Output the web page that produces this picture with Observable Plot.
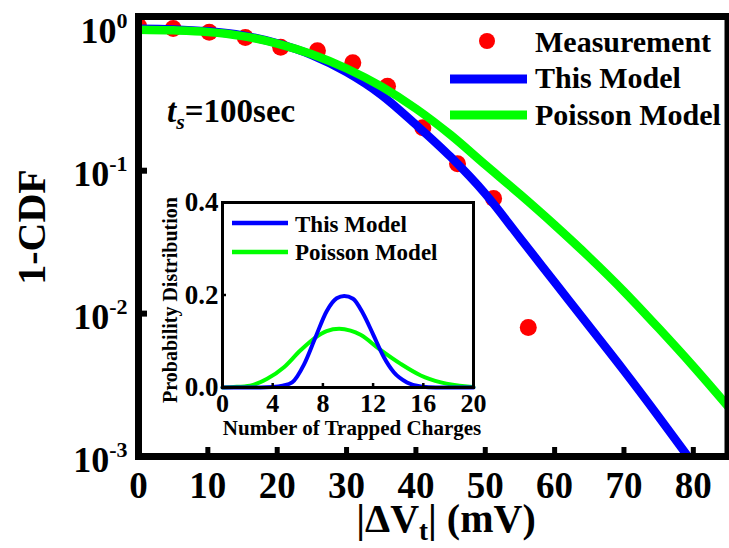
<!DOCTYPE html>
<html>
<head>
<meta charset="utf-8">
<script src="https://cdn.jsdelivr.net/npm/d3@7"></script>
<script src="https://cdn.jsdelivr.net/npm/@observablehq/plot@0.6"></script>
<style>
  html, body { margin: 0; padding: 0; background: white; }
  #wrap { position: relative; width: 729px; height: 548px; overflow: hidden; }
  #inset { position: absolute; left: 140px; top: 170px; }
</style>
</head>
<body>
<div id="wrap"><div id="main"></div><div id="inset"></div></div>
<script>
// ---------- data ----------
const measX = [0, 5.0, 10.2, 15.4, 20.5, 25.8, 30.9, 35.9, 41.0, 46.0, 51.2, 56.2];
const measY = [1.03, 0.99, 0.93, 0.855, 0.73, 0.69, 0.57, 0.39, 0.20, 0.112, 0.064, 0.008];

const thisModelX = [0, 5, 10, 15, 20, 25, 30, 35, 40, 45, 50, 55, 60, 65, 70, 75, 80];
const thisModelY = [0.985, 0.975, 0.945, 0.885, 0.78, 0.645, 0.49, 0.34, 0.21, 0.125, 0.069, 0.0339, 0.0166, 0.00813, 0.00398, 0.0019, 0.00089];

const poissonX = [0, 5, 10, 15, 20, 25, 30, 35, 40, 45, 50, 55, 60, 65, 70, 75, 80, 85];
const poissonY = [0.97, 0.96, 0.935, 0.875, 0.776, 0.653, 0.519, 0.389, 0.272, 0.178, 0.110, 0.0684, 0.0417, 0.0248, 0.0143, 0.0079, 0.00427, 0.00224];

const insetThisX = [0, 3, 4, 4.8, 5.55, 6.5, 7.4, 8.3, 9.1, 9.7, 10.4, 11.2, 12.0, 12.85, 13.65, 14.7, 15.8, 17, 20];
const insetThisY = [0, 0, 0.001, 0.004, 0.011, 0.05, 0.108, 0.165, 0.193, 0.198, 0.192, 0.16, 0.115, 0.066, 0.033, 0.011, 0.002, 0, 0];

const insetPoissonX = [0, 0.9, 2.2, 3.56, 4.9, 6.2, 7.4, 8.3, 9.3, 10.2, 11.0, 12.45, 14.2, 15.8, 17.4, 19.5, 20];
const insetPoissonY = [0, 0.001, 0.004, 0.019, 0.044, 0.080, 0.108, 0.122, 0.127, 0.123, 0.114, 0.084, 0.051, 0.026, 0.011, 0.002, 0.001];

const xTicks = [0, 10, 20, 30, 40, 50, 60, 70, 80];
const yTicks = [0.001, 0.01, 0.1, 1];
const insetXTicks = [0, 4, 8, 12, 16, 20];
const insetYTicks = [0, 0.2, 0.4];

const seriesNames = ["Measurement", "This Model", "Poisson Model"];
const yTitle = "1-CDF";
const insetXTitle = "Number of Trapped Charges";
const insetYTitle = "Probability Distribution";

const RED = "#ff0000", BLUE = "#0000ff", GREEN = "#00ff00";
const FONT = "'Liberation Serif', 'Times New Roman', serif";

const rows = (xs, ys) => xs.map((x, i) => ({x, y: ys[i]}));

// ---------- main plot ----------
const main = Plot.plot({
  width: 729, height: 548,
  marginLeft: 138, marginRight: 1.5, marginTop: 16, marginBottom: 92,
  x: {domain: [0, 85], label: null},
  y: {type: "log", domain: [0.001, 1.2], label: null},
  style: {fontFamily: FONT, fontWeight: "bold", color: "black", background: "white"},
  marks: [
    Plot.dot(rows(measX, measY), {x: "x", y: "y", r: 8.5, fill: RED, stroke: "none", clip: true}),
    Plot.line(rows(thisModelX, thisModelY), {x: "x", y: "y", stroke: BLUE, strokeWidth: 8.5, curve: "monotone-x", clip: true}),
    Plot.line(rows(poissonX, poissonY), {x: "x", y: "y", stroke: GREEN, strokeWidth: 8.5, curve: "monotone-x", clip: true}),
    Plot.axisX({ticks: xTicks, tickSize: 0, tickPadding: 15, fontSize: 37, label: null}),
    Plot.axisX({ticks: xTicks.filter(d => d > 0), tickSize: -9, strokeWidth: 5, tickFormat: () => "", label: null}),
    Plot.axisY({ticks: yTicks, tickSize: 0, tickPadding: 11, fontSize: 36, dy: 4,
      tickFormat: d => "10^" + Math.round(Math.log10(d)), label: null}),
    Plot.axisY({ticks: [0.1, 0.01], tickSize: -9, strokeWidth: 6, tickFormat: () => "", label: null}),
    Plot.frame({stroke: "black", strokeWidth: 7})
  ]
});
document.getElementById("main").appendChild(main);

const svg = d3.select(main);
// superscript exponents on y tick labels
svg.selectAll('g[aria-label="y-axis tick label"] text').each(function () {
  const t = this.textContent;
  if (!t.includes("^")) return;
  const [b, e] = t.split("^");
  const sel = d3.select(this);
  sel.text(null);
  sel.append("tspan").text(b);
  sel.append("tspan").attr("font-size", 22).attr("dy", -15).text(e);
});

// y title
svg.append("text")
  .attr("transform", "translate(45,227) rotate(-90)")
  .attr("text-anchor", "middle").attr("font-size", 40).attr("font-weight", "bold")
  .attr("font-family", FONT).attr("fill", "black")
  .text(yTitle);

// x title |ΔVt| (mV)
const xt = svg.append("text")
  .attr("x", 446).attr("y", 532)
  .attr("text-anchor", "middle").attr("font-size", 40).attr("font-weight", "bold")
  .attr("font-family", FONT).attr("fill", "black");
xt.append("tspan").text("|ΔV");
xt.append("tspan").attr("font-size", 27).attr("dy", 8).text("t");
xt.append("tspan").attr("dy", -8).text("| (mV)");

// t_s = 100sec
const ts = svg.append("text")
  .attr("x", 167).attr("y", 122)
  .attr("text-anchor", "start").attr("font-size", 33).attr("font-weight", "bold")
  .attr("font-family", FONT).attr("fill", "black");
ts.append("tspan").attr("font-style", "italic").text("t");
ts.append("tspan").attr("font-style", "italic").attr("font-size", 22).attr("dy", 7).text("s");
ts.append("tspan").attr("dy", -7).text("=100sec");

// legend (main)
const lg = svg.append("g").attr("font-family", FONT).attr("font-weight", "bold").attr("font-size", 30).attr("fill", "black");
lg.append("circle").attr("cx", 487).attr("cy", 41).attr("r", 8).attr("fill", RED);
lg.append("line").attr("x1", 450).attr("x2", 527).attr("y1", 79).attr("y2", 79).attr("stroke", BLUE).attr("stroke-width", 9);
lg.append("line").attr("x1", 450).attr("x2", 527).attr("y1", 115).attr("y2", 115).attr("stroke", GREEN).attr("stroke-width", 9);
lg.append("text").attr("x", 535).attr("y", 52).attr("text-anchor", "start").text(seriesNames[0]);
lg.append("text").attr("x", 535).attr("y", 88).attr("text-anchor", "start").text(seriesNames[1]);
lg.append("text").attr("x", 535).attr("y", 125).attr("text-anchor", "start").text(seriesNames[2]);

// ---------- inset ----------
const inset = Plot.plot({
  width: 360, height: 275,
  marginLeft: 82, marginRight: 27, marginTop: 32, marginBottom: 58,
  x: {domain: [0, 20], label: null},
  y: {domain: [0, 0.4], label: null},
  style: {fontFamily: FONT, fontWeight: "bold", color: "black", background: "transparent"},
  marks: [
    Plot.frame({fill: "white", stroke: "none"}),
    Plot.line(rows(insetPoissonX, insetPoissonY), {x: "x", y: "y", stroke: GREEN, strokeWidth: 4, curve: "monotone-x"}),
    Plot.line(rows(insetThisX, insetThisY), {x: "x", y: "y", stroke: BLUE, strokeWidth: 4, curve: "monotone-x"}),
    Plot.axisX({ticks: insetXTicks, tickSize: 0, tickPadding: 6, fontSize: 26, label: null}),
    Plot.axisX({ticks: insetXTicks.filter(d => d > 0 && d < 20), tickSize: -4, strokeWidth: 2.5, tickFormat: () => "", label: null}),
    Plot.axisY({ticks: insetYTicks, tickSize: 0, tickPadding: 4, fontSize: 27, tickFormat: d3.format(".1f"), label: null}),
    Plot.axisY({ticks: [0.2], tickSize: -4, strokeWidth: 2.5, tickFormat: () => "", label: null}),
    Plot.frame({stroke: "black", strokeWidth: 3})
  ]
});
document.getElementById("inset").appendChild(inset);
const isvg = d3.select(inset);
isvg.append("text")
  .attr("x", 212).attr("y", 265).attr("text-anchor", "middle")
  .attr("font-size", 21).attr("font-weight", "bold").attr("font-family", FONT).attr("fill", "black")
  .text(insetXTitle);
isvg.append("text")
  .attr("transform", "translate(37,130) rotate(-90)").attr("text-anchor", "middle")
  .attr("font-size", 20).attr("font-weight", "bold").attr("font-family", FONT).attr("fill", "black")
  .text(insetYTitle);
const ilg = isvg.append("g").attr("font-family", FONT).attr("font-weight", "bold").attr("font-size", 23).attr("fill", "black");
ilg.append("line").attr("x1", 92).attr("x2", 148).attr("y1", 53).attr("y2", 53).attr("stroke", BLUE).attr("stroke-width", 4.5);
ilg.append("line").attr("x1", 92).attr("x2", 148).attr("y1", 82).attr("y2", 82).attr("stroke", GREEN).attr("stroke-width", 4.5);
ilg.append("text").attr("x", 155).attr("y", 62).attr("text-anchor", "start").text(seriesNames[1]);
ilg.append("text").attr("x", 155).attr("y", 90).attr("text-anchor", "start").text(seriesNames[2]);
</script>
</body>
</html>
